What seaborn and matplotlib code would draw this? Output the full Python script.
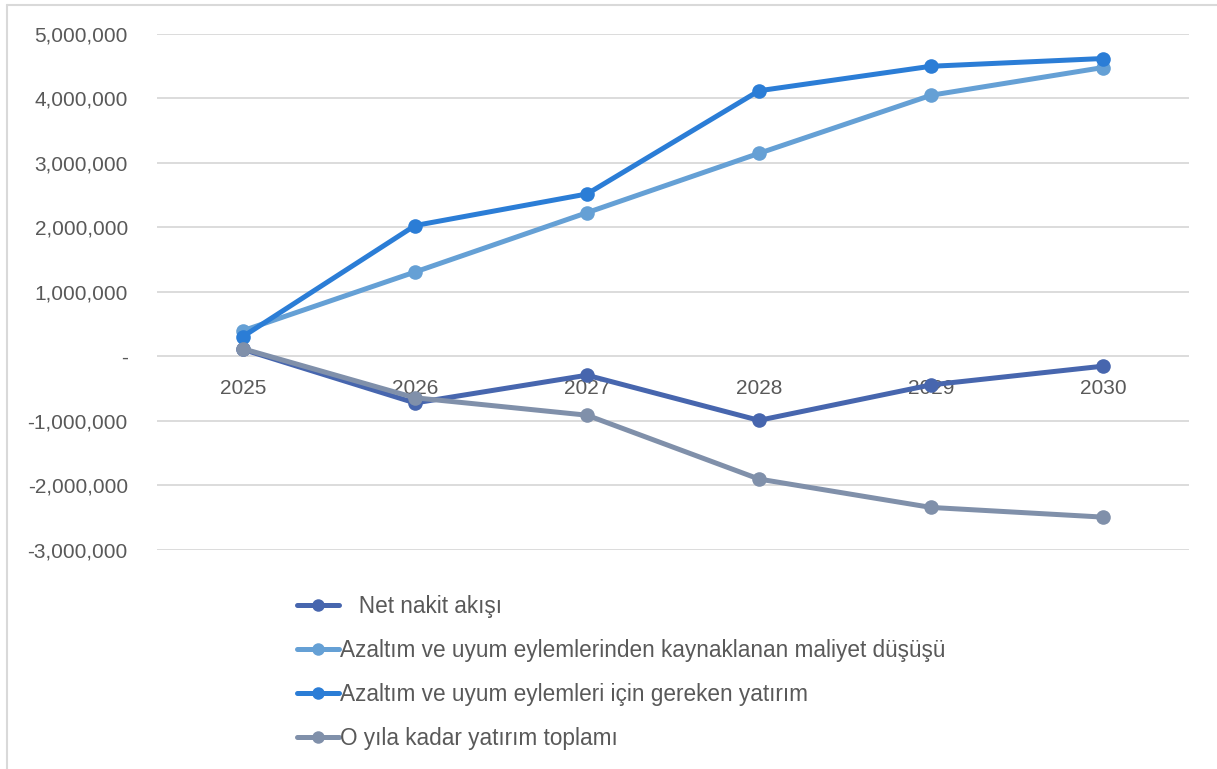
import pandas as pd
import numpy as np
import matplotlib.pyplot as plt
import seaborn as sns
from matplotlib.lines import Line2D
from matplotlib.ticker import FuncFormatter, MultipleLocator

# veriler
years = ['2025', '2026', '2027', '2028', '2029', '2030']
net_nakit = [110000, -720000, -290000, -990000, -440000, -150000]
maliyet_dususu = [400000, 1310000, 2230000, 3150000, 4050000, 4480000]
gereken_yatirim = [310000, 2030000, 2520000, 4120000, 4500000, 4620000]
yatirim_toplami = [120000, -640000, -910000, -1900000, -2340000, -2490000]

series_names = ['   Net nakit akışı',
                'Azaltım ve uyum eylemlerinden kaynaklanan maliyet düşüşü',
                'Azaltım ve uyum eylemleri için gereken yatırım',
                'O yıla kadar yatırım toplamı']
colors = ['#4766AE', '#65A0D5', '#2B7DD6', '#8090AA']

df = pd.DataFrame({'idx': list(range(len(years))) * 4,
                   'value': net_nakit + maliyet_dususu + gereken_yatirim + yatirim_toplami,
                   'series': sum([[n] * len(years) for n in series_names], [])})

sns.set_theme(style="white")
plt.rcParams['font.family'] = ['Liberation Sans', 'DejaVu Sans']

fig = plt.figure(figsize=(12.17, 7.69), dpi=100)
ax = fig.add_axes([157 / 1217, 1 - 550 / 769, (1189 - 157) / 1217, (550 - 34) / 769])

sns.lineplot(data=df, x='idx', y='value', hue='series', hue_order=series_names,
             palette=colors, marker='o', markersize=10.5, markeredgewidth=0,
             linewidth=3.6, ax=ax, legend=False)

ax.set_xlim(-0.5, len(years) - 0.5)
ax.set_ylim(-3000000, 5000000)
ax.yaxis.set_major_locator(MultipleLocator(1000000))
ax.yaxis.set_major_formatter(FuncFormatter(lambda v, p: '-' if v == 0 else f'{v:,.0f}'))
ax.set_xticks(range(len(years)))
ax.set_xticklabels(years)
ax.set_xlabel('')
ax.set_ylabel('')

ax.grid(axis='y', color='#D9D9D9', linewidth=1.3)
ax.grid(axis='x', visible=False)
ax.set_axisbelow(True)
for s in ax.spines.values():
    s.set_visible(False)
ax.spines['bottom'].set_position(('data', 0))
ax.tick_params(axis='y', length=0, pad=21, labelsize=15, labelcolor='#595959')
ax.tick_params(axis='x', length=0, pad=16, labelsize=15, labelcolor='#595959')

# lejant
handles = [Line2D([], [], color=c, marker='o', markersize=9, markeredgewidth=0, linewidth=3.6)
           for c in colors]
fig.legend(handles, series_names, loc='upper left', bbox_to_anchor=(288 / 1217, 1 - 586 / 769),
           frameon=False, fontsize=16.3, labelcolor='#595959', handlelength=1.85,
           handletextpad=0.05, labelspacing=0.92, borderaxespad=0)

# çerçeve (üst ve sol)
fig.add_artist(Line2D([7 / 1217, 1], [1 - 5 / 769, 1 - 5 / 769], color='#D9D9D9', linewidth=1.5))
fig.add_artist(Line2D([7 / 1217, 7 / 1217], [0, 1 - 5 / 769], color='#D9D9D9', linewidth=1.5))

fig.savefig('out.png', dpi=100)
